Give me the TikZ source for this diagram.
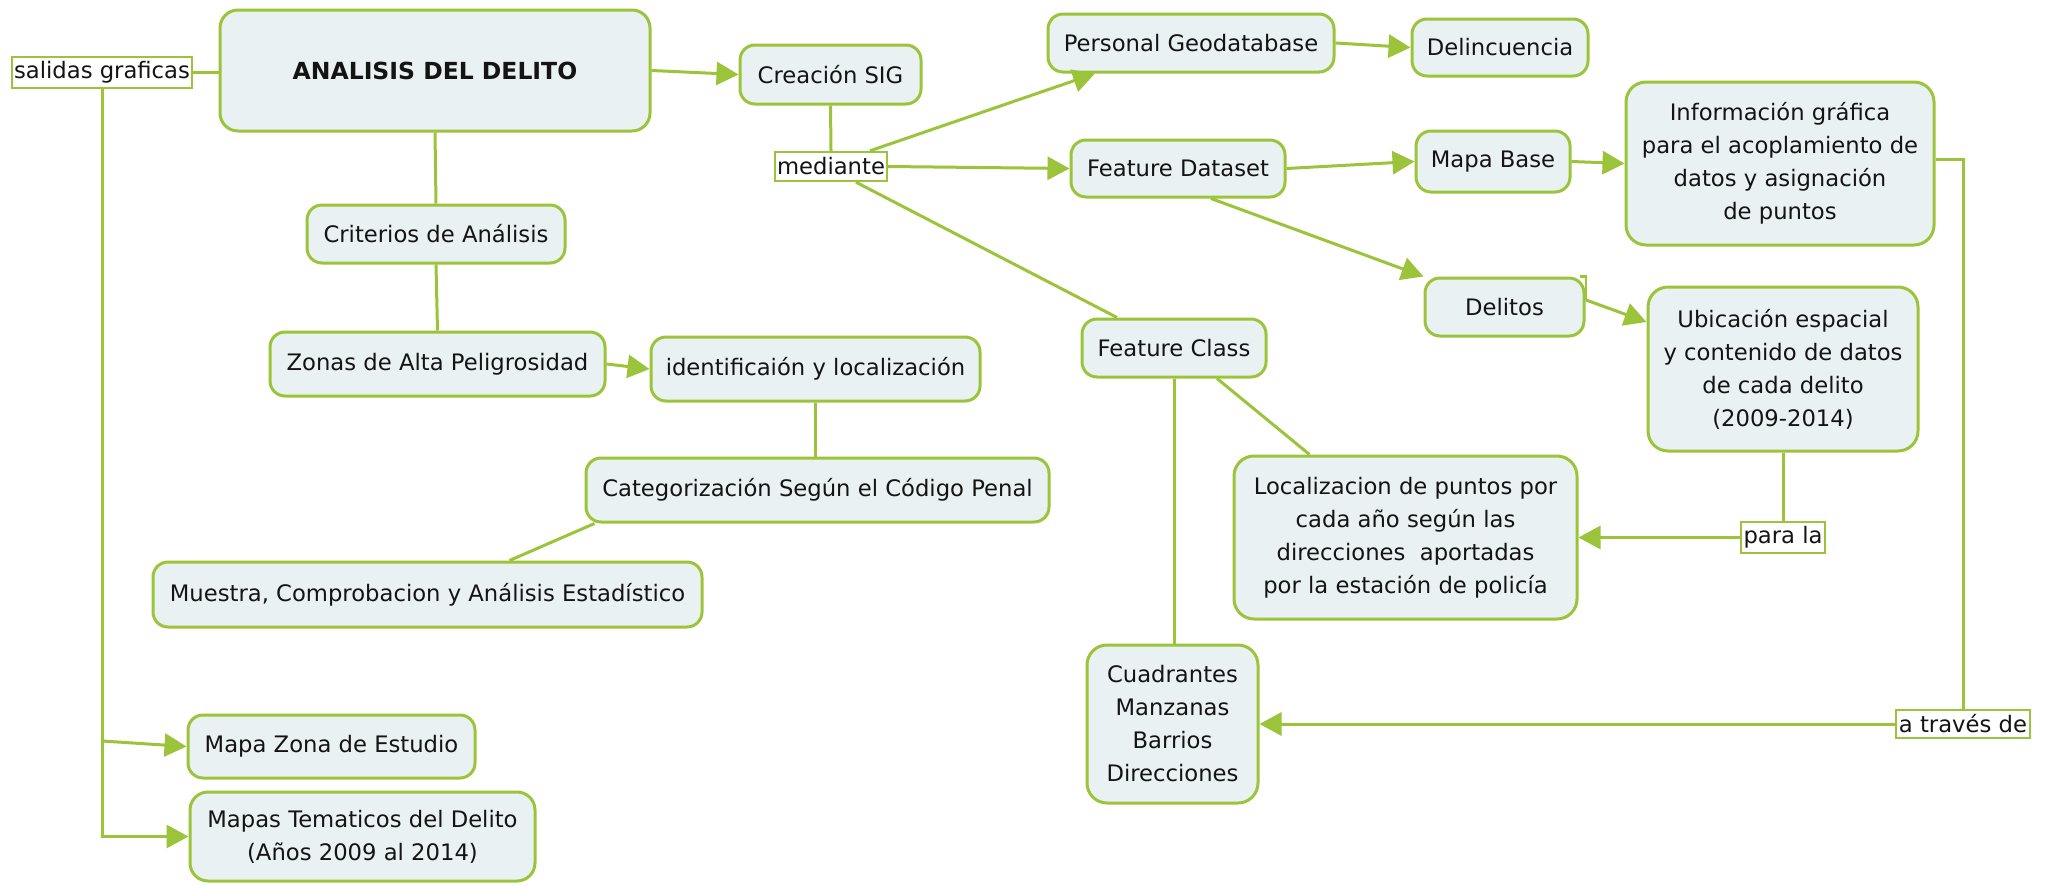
\documentclass[tikz,border=0pt]{standalone}
\usepackage{fontspec}
\setmainfont{DejaVu Sans}
\usetikzlibrary{arrows.meta}
\definecolor{lgreen}{HTML}{9BC43A}
\definecolor{boxfill}{HTML}{EAF1F3}
\definecolor{txt}{HTML}{141414}
\begin{document}
\begin{tikzpicture}[x=1pt,y=-1pt,
  concept/.style={draw=lgreen, line width=3pt, fill=boxfill, rounded corners=15pt, inner sep=0pt, align=center, text=txt, font=\fontsize{22.7}{33}\selectfont},
  bigconcept/.style={concept, rounded corners=20pt},
  linkword/.style={draw=lgreen, line width=2.4pt, fill=white, inner sep=0pt, text=txt, font=\fontsize{22.7}{33}\selectfont},
  conn/.style={draw=lgreen, line width=3pt},
  arr/.style={conn, -{Triangle[length=22pt,width=23pt]}}
]
\useasboundingbox[fill=white] (0,0) rectangle (2051,886);

% nodes
\node[linkword, minimum width=180pt, minimum height=31pt] (salidas) at (102,72.5) {salidas graficas};
\node[concept, rounded corners=18pt, minimum width=430pt, minimum height=121pt, font=\fontsize{23.5}{33}\selectfont\bfseries] (analisis) at (435,70.5) {ANALISIS DEL DELITO};
\node[concept, minimum width=258pt, minimum height=58pt] (criterios) at (436,234) {Criterios de Análisis};
\node[concept, minimum width=335pt, minimum height=64pt] (zonas) at (437.5,364) {Zonas de Alta Peligrosidad};
\node[concept, minimum width=329pt, minimum height=64pt] (ident) at (815.5,369) {identificaión y localización};
\node[concept, minimum width=463pt, minimum height=64pt] (categ) at (817.5,490) {Categorización Según el Código Penal};
\node[concept, minimum width=549pt, minimum height=65pt] (muestra) at (427.5,594.5) {Muestra, Comprobacion y Análisis Estadístico};
\node[concept, minimum width=181pt, minimum height=59pt] (creacion) at (830.5,74.5) {Creación SIG};
\node[linkword, minimum width=112pt, minimum height=29pt] (mediante) at (831,166.5) {mediante};
\node[concept, minimum width=286pt, minimum height=58pt] (pgeo) at (1191,43) {Personal Geodatabase};
\node[concept, minimum width=214pt, minimum height=57pt] (fdata) at (1178,168.5) {Feature Dataset};
\node[concept, minimum width=176pt, minimum height=57pt] (delinc) at (1500,47.5) {Delincuencia};
\node[concept, minimum width=154pt, minimum height=61pt] (mapabase) at (1493,161.5) {Mapa Base};
\node[bigconcept, minimum width=308pt, minimum height=163pt] (info) at (1780,163.5) {Información gráfica\\para el acoplamiento de\\datos y asignación\\de puntos};
\node[concept, minimum width=159pt, minimum height=58pt] (delitos) at (1504.5,307) {Delitos};
\node[bigconcept, minimum width=270pt, minimum height=164pt] (ubic) at (1783,369) {Ubicación espacial\\y contenido de datos\\de cada delito\\(2009-2014)};
\node[linkword, minimum width=84pt, minimum height=31pt] (parala) at (1783,537.5) {para la};
\node[bigconcept, minimum width=343pt, minimum height=163pt] (local) at (1405.5,537.5) {Localizacion de puntos por\\cada año según las\\direcciones\ \ aportadas\\por la estación de policía};
\node[concept, minimum width=184pt, minimum height=58pt] (fclass) at (1174,348) {Feature Class};
\node[bigconcept, minimum width=171pt, minimum height=158pt] (cuad) at (1172.5,724) {Cuadrantes\\Manzanas\\Barrios\\Direcciones};
\node[linkword, minimum width=134pt, minimum height=28pt] (atraves) at (1963,724) {a través de};
\node[concept, minimum width=287pt, minimum height=63pt] (mapazona) at (331.5,746.5) {Mapa Zona de Estudio};
\node[concept, rounded corners=18pt, minimum width=345pt, minimum height=89pt] (mapastem) at (362.5,836.5) {Mapas Tematicos del Delito\\(Años 2009 al 2014)};

% helper coordinates
\coordinate (sg1) at (102,741);
\coordinate (c1) at (1963,159);
\coordinate (dc) at (1586,300);

% connectors
\draw[conn] (salidas.east) -- (salidas.east -| analisis.west);
\draw[arr] (salidas.south) |- (mapastem.west);
\draw[arr] (sg1) -- (mapazona.west);
\draw[arr] (analisis.east) -- (creacion.west);
\draw[conn] (analisis.south) -- (criterios.north);
\draw[conn] (criterios.south) -- (zonas.north);
\draw[arr] (zonas.east) -- (ident.west);
\draw[conn] (ident.south) -- (ident.south |- categ.north);
\draw[conn] ([xshift=10pt]categ.south west) -- ([xshift=82pt]muestra.north);
\draw[conn] (creacion.south) -- (mediante.north);
\draw[arr] ([xshift=39pt]mediante.north) -- ([xshift=-96pt]pgeo.south);
\draw[arr] (mediante.east) -- (fdata.west);
\draw[conn] ([xshift=25pt]mediante.south) -- ([xshift=-57pt]fclass.north);
\draw[arr] ([xshift=33pt]fdata.south) -- (delitos.north west);
\draw[arr] (pgeo.east) -- (delinc.west);
\draw[arr] (fdata.east) -- (mapabase.west);
\draw[arr] (mapabase.east) -- (info.west);
\draw[conn] (info.east |- c1) -- (c1) -- (atraves.north);
\draw[arr] (atraves.west) -- (cuad.east);
\draw[conn, line width=2.2pt] ([xshift=-6pt]delitos.north east) -| (dc);
\draw[arr] (dc) -- ([yshift=47pt]ubic.west);
\draw[conn] (ubic.south) -- (parala.north);
\draw[arr] (parala.west) -- (local.east);
\draw[conn] ([xshift=43pt]fclass.south) -- ([xshift=-96pt]local.north);
\draw[conn] (fclass.south) -- (fclass.south |- cuad.north);
\end{tikzpicture}
\end{document}
